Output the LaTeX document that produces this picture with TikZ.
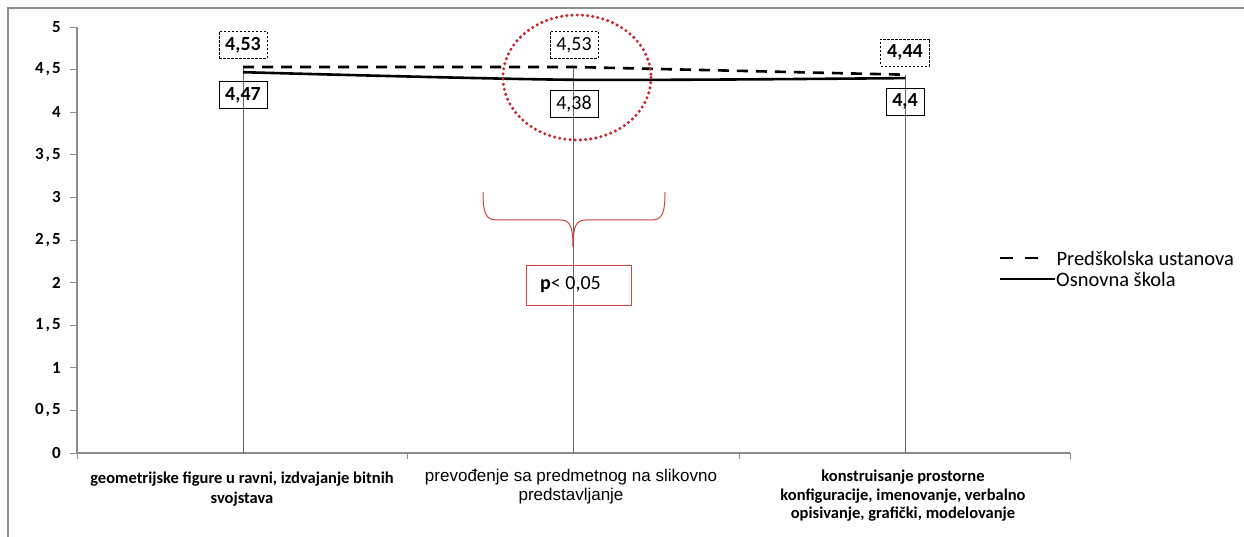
\documentclass[tikz,border=0pt]{standalone}
\usepackage{fontspec}
\setmainfont{Carlito}
\newfontfamily\tahoma{Liberation Sans}
\begin{document}
\begin{tikzpicture}[x=1pt,y=-1pt,
  frameline/.style={draw=black!45,line width=1.2pt},
  axisline/.style={draw=black!45,line width=1.1pt},
  vline/.style={draw=black!60,line width=0.9pt},
  serA/.style={draw=black,line width=2.6pt,dash pattern=on 11pt off 8pt},
  serB/.style={draw=black,line width=2.6pt},
  valbox/.style={draw=black,line width=0.8pt,minimum width=48pt,minimum height=27pt,inner sep=1pt,font=\fontsize{20}{22}\selectfont},
  valboxd/.style={valbox,dash pattern=on 2.5pt off 1.5pt},
  boldval/.style={font=\fontsize{20}{22}\selectfont\bfseries},
  ylab/.style={anchor=east,inner sep=0pt,font=\fontsize{17}{19}\selectfont\bfseries\addfontfeature{LetterSpace=12}},
  catlab/.style={align=center,font=\fontsize{16.5}{20}\selectfont\bfseries},
  leglab/.style={anchor=west,font=\fontsize{20.5}{22}\selectfont},
  redc/.style={draw={rgb,255:red,200;green,35;blue,45},line width=3.4pt,dash pattern=on 0pt off 5.2pt,line cap=round},
  redl/.style={draw={rgb,255:red,205;green,70;blue,70},line width=1pt}
]
\useasboundingbox (0,0) rectangle (1244,537);
\fill[white] (0,0) rectangle (1244,537);
% frame (top and left)
\draw[frameline] (8,537) -- (8,8) -- (1244,8);
% axes
\coordinate (O) at (77,453);
\coordinate (Ytop) at (77,27);
\coordinate (Xend) at (1070,453);
\draw[axisline] (Ytop) -- (O) -- (Xend);
\foreach \v/\t in {0/0,0.5/{0,5},1/1,1.5/{1,5},2/2,2.5/{2,5},3/3,3.5/{3,5},4/4,4.5/{4,5},5/5}{
  \draw[axisline,line width=0.8pt] (70,453-\v*85.2) -- (77,453-\v*85.2);
  \node[ylab] (y\v) at (61,453-\v*85.2) {\t};
}
\foreach \xx in {77,407,739,1070}{
  \draw[axisline,line width=0.8pt] (\xx,453) -- (\xx,459);
}
% data coordinates
\coordinate (a1) at (243,67.0);
\coordinate (a2) at (573,67.0);
\coordinate (a3) at (905,74.7);
\coordinate (b1) at (243,72.2);
\coordinate (b2) at (573,79.8);
\coordinate (b3) at (905,78.1);
\coordinate (f1) at (243,453);
\coordinate (f2) at (573,453);
\coordinate (f3) at (905,453);
% vertical drop lines
\draw[vline] (a1) -- (f1);
\draw[vline] (a2) -- (f2);
\draw[vline] (a3) -- (f3);
% series
\draw[serB] plot[smooth,tension=0.45] coordinates {(243,72.2) (573,79.8) (905,78.1)};
\draw[serA] (a1) -- (a2) -- (a3);
% value labels
\node[valboxd,boldval] (la1) at (243,45) {4,53};
\node[valbox,boldval] (lb1) at (243,95) {4,47};
\node[valboxd] (la2) at (574,45) {4,53};
\node[valbox] (lb2) at (574,103.5) {4,38};
\node[valboxd,minimum width=49pt,boldval] (la3) at (905,52.5) {4,44};
\node[valbox,minimum width=38pt,boldval] (lb3) at (905,101.5) {4,4};
% red dotted circle
\draw[redc] (577,77.5) ellipse [x radius=74, y radius=62.5];
% red brace
\coordinate (bl) at (483,192);
\coordinate (br) at (665,192);
\coordinate (bt) at (573,247);
\draw[redl] (bl) .. controls (483,214) and (486,220) .. (497,220) -- (560,220) .. controls (570,220) and (573,226) .. (bt);
\draw[redl] (br) .. controls (665,214) and (662,220) .. (651,220) -- (586,220) .. controls (576,220) and (573,226) .. (bt);
% p box
\node[redl,draw,minimum width=105pt,minimum height=40pt,anchor=north west,inner sep=0pt] (pbox) at (526,265) {};
\node[anchor=west,font=\fontsize{20}{22}\selectfont,inner sep=0pt] (ptext) at (540,285) {\textbf{p}< 0,05};
% category labels
\node[catlab] (c1) at (242,489) {geometrijske figure u ravni, izdvajanje bitnih\\svojstava};
\node[align=center,font=\tahoma\fontsize{17}{19}\selectfont] (c2) at (571,487) {prevođenje sa predmetnog na slikovno\\predstavljanje};
\node[catlab,font=\fontsize{16.5}{18.5}\selectfont\bfseries] (c3) at (903,496) {konstruisanje prostorne\\konfiguracije, imenovanje, verbalno\\opisivanje, grafički, modelovanje};
% legend
\coordinate (l1s) at (1000,258);
\coordinate (l1e) at (1038,258);
\coordinate (l2s) at (1000,279);
\coordinate (l2e) at (1055,279);
\draw[serA,dash pattern=on 13pt off 12pt] (l1s) -- (l1e);
\node[leglab] (lg1) at (1053,258) {Predškolska ustanova};
\draw[serB] (l2s) -- (l2e);
\node[leglab,inner sep=1pt] (lg2) at (1055,279) {Osnovna škola};
\end{tikzpicture}
\end{document}
